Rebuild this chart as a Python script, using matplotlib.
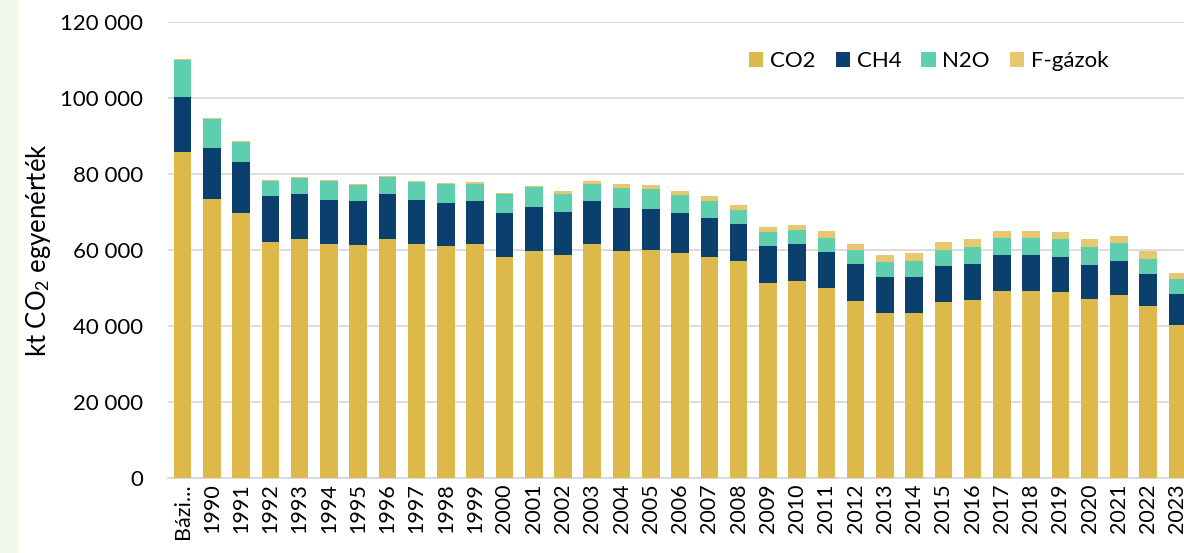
import matplotlib
matplotlib.use('Agg')
import matplotlib.pyplot as plt
import numpy as np

# Values in kt CO2 equivalent
years = ['Bázi...', '1990', '1991', '1992', '1993', '1994', '1995', '1996', '1997', '1998',
         '1999', '2000', '2001', '2002', '2003', '2004', '2005', '2006', '2007', '2008',
         '2009', '2010', '2011', '2012', '2013', '2014', '2015', '2016', '2017', '2018',
         '2019', '2020', '2021', '2022', '2023']

co2 = [85700, 73300, 69800, 62200, 62800, 61600, 61300, 63000, 61500, 61100,
       61500, 58200, 59700, 58600, 61500, 59800, 60000, 59300, 58200, 57100,
       51400, 51900, 50100, 46600, 43300, 43500, 46300, 46800, 49200, 49200,
       49000, 47000, 48200, 45200, 40300]

ch4 = [14500, 13600, 13400, 12100, 11900, 11600, 11500, 11700, 11600, 11400,
       11400, 11500, 11500, 11400, 11400, 11200, 10800, 10400, 10300, 9700,
       9700, 9700, 9500, 9800, 9700, 9400, 9600, 9400, 9400, 9400,
       9200, 9100, 9000, 8500, 8100]

n2o = [9800, 7600, 5300, 3900, 4200, 5000, 4400, 4600, 4800, 4900,
       4600, 5000, 5300, 4800, 4600, 5200, 5200, 4900, 4400, 3800,
       3600, 3700, 3600, 3600, 3900, 4200, 4100, 4600, 4500, 4500,
       4600, 4700, 4600, 3900, 3900]

fgas = [300, 300, 300, 200, 200, 200, 200, 300, 300, 300,
        400, 400, 400, 600, 700, 1100, 1100, 1000, 1200, 1300,
        1300, 1400, 1800, 1600, 1900, 2000, 2200, 2100, 1900, 1900,
        2000, 2000, 2000, 2100, 1700]

series = ['CO2', 'CH4', 'N2O', 'F-gázok']
colors = ['#DDB84B', '#0B3F6E', '#5DCFAE', '#E8C772']


def fmt_thousands(v, pos):
    return f'{int(v):,}'.replace(',', ' ')


def main():
    plt.rcParams['font.family'] = ['Lato', 'DejaVu Sans']
    plt.rcParams['mathtext.fontset'] = 'custom'
    plt.rcParams['mathtext.rm'] = 'Lato'
    plt.rcParams['mathtext.it'] = 'Lato:italic'

    fig = plt.figure(figsize=(11.84, 5.53), dpi=100)
    # faint green strip on the left edge of the slide
    fig.patches.append(plt.Rectangle((0, 0), 0.015, 1, transform=fig.transFigure,
                                     color='#F3F8EC', zorder=-10))

    ax = fig.add_axes([0.1419, 0.1356, 0.8649, 0.8246])
    x = np.arange(len(years))
    width = 0.6

    bottom = np.zeros(len(years))
    for name, vals, col in zip(series, [co2, ch4, n2o, fgas], colors):
        ax.bar(x, vals, width, bottom=bottom, color=col, label=name, zorder=3)
        bottom += np.array(vals)

    ax.set_xlim(-0.5, len(years) - 0.5)
    ax.set_ylim(0, 120000)
    ax.set_yticks(np.arange(0, 120001, 20000))
    ax.yaxis.set_major_formatter(matplotlib.ticker.FuncFormatter(fmt_thousands))
    ax.set_xticks(x)
    ax.set_xticklabels(years, rotation=90, fontsize=15.5)
    ax.tick_params(axis='y', labelsize=16, length=0, pad=18)
    ax.tick_params(axis='x', length=0, pad=4)

    ax.grid(axis='y', color='#D9D9D9', linewidth=1.3, zorder=0)
    for side in ['top', 'right', 'left']:
        ax.spines[side].set_visible(False)
    ax.spines['bottom'].set_color('#D9D9D9')
    ax.spines['bottom'].set_linewidth(1.3)

    ax.set_ylabel('kt CO$_2$ egyenérték', fontsize=18.5, labelpad=5)

    ax.legend(loc='upper right', bbox_to_anchor=(0.938, 0.98), ncol=4, frameon=False,
              fontsize=16, handlelength=0.65, handleheight=0.65, handletextpad=0.3,
              columnspacing=0.9)

    fig.savefig('out.png', dpi=100)


if __name__ == "__main__":
    main()
